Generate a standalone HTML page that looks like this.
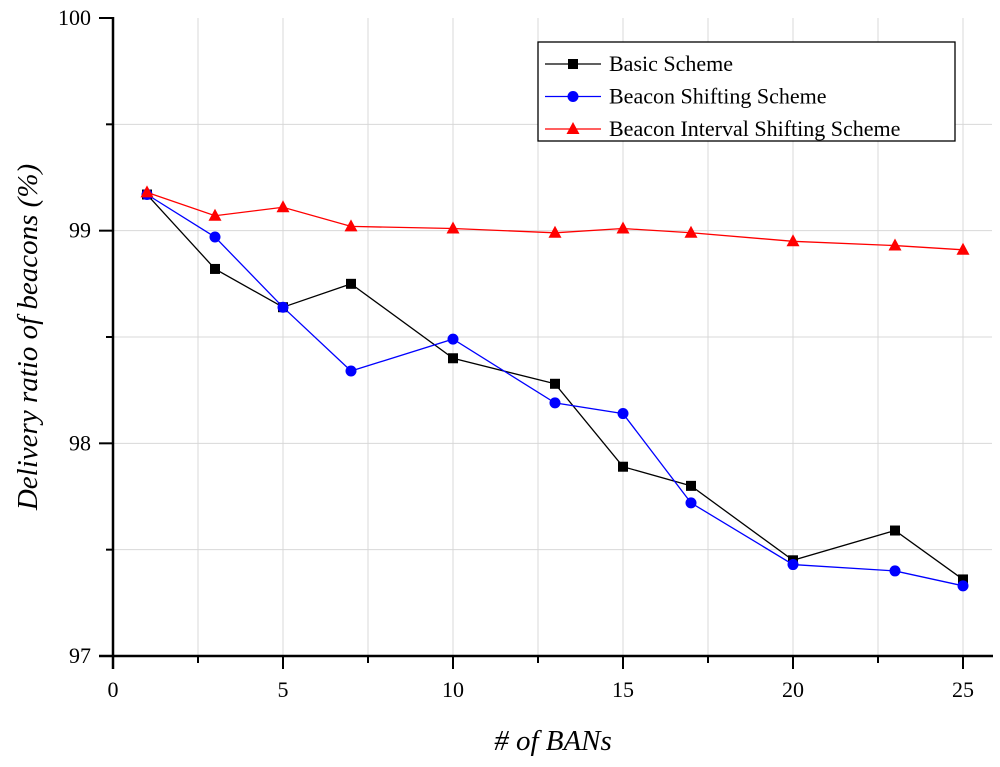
<!DOCTYPE html>
<html><head><meta charset="utf-8"><style>
html,body{margin:0;padding:0;background:#fff}
text{font-family:"Liberation Serif",serif}
</style></head><body>
<svg id="chart" width="1000" height="762" xmlns="http://www.w3.org/2000/svg"></svg>
<script>
const xValues=[1,3,5,7,10,13,15,17,20,23,25];
const basicSeries=[99.17,98.82,98.64,98.75,98.40,98.28,97.89,97.80,97.45,97.59,97.36];
const shiftSeries=[99.17,98.97,98.64,98.34,98.49,98.19,98.14,97.72,97.43,97.40,97.33];
const intervalSeries=[99.18,99.07,99.11,99.02,99.01,98.99,99.01,98.99,98.95,98.93,98.91];
const xTickLabels=[0,5,10,15,20,25];
const yTickLabels=[97,98,99,100];
const seriesNames=["Basic Scheme","Beacon Shifting Scheme","Beacon Interval Shifting Scheme"];

const NS="http://www.w3.org/2000/svg";
const svg=document.getElementById('chart');
const X0=113,PX=34,Y0=656,PY=212.67,YMIN=97;
const sx=v=>X0+v*PX, sy=v=>Y0-(v-YMIN)*PY;
function mk(tag,attrs,parent){const e=document.createElementNS(NS,tag);for(const k in attrs)e.setAttribute(k,attrs[k]);(parent||svg).appendChild(e);return e;}

for(let v=2.5;v<=25.01;v+=2.5){const g=mk('line',{x1:sx(v),x2:sx(v),y1:18,y2:Y0,stroke:'#d8d8d8','stroke-width':1});

}
for(let v=97.5;v<=99.51;v+=0.5){const g=mk('line',{x1:X0,x2:992,y1:sy(v),y2:sy(v),stroke:'#d8d8d8','stroke-width':1});

}
const ax=mk('line',{x1:X0-14,x2:993,y1:Y0,y2:Y0,stroke:'#000','stroke-width':2.5});


const ay=mk('line',{x1:X0,x2:X0,y1:17,y2:Y0+13,stroke:'#000','stroke-width':2.5});


for(let v=2.5;v<=25.01;v+=2.5){const major=Math.abs(v%5)<0.01;const t=mk('line',{x1:sx(v),x2:sx(v),y1:Y0,y2:Y0+(major?13:7),stroke:'#000','stroke-width':2});

}
xTickLabels.forEach(v=>{const t=mk('text',{x:sx(v),y:Y0+41,'font-size':22,'text-anchor':'middle'});t.textContent=v;

});
for(let v=97.5;v<=100.01;v+=0.5){const major=Math.abs(v%1)<0.01;const t=mk('line',{x1:X0,x2:X0-(major?14:7),y1:sy(v),y2:sy(v),stroke:'#000','stroke-width':2});

}
yTickLabels.forEach(v=>{const t=mk('text',{x:X0-22,y:sy(v)+7,'font-size':22,'text-anchor':'end'});t.textContent=v;

});
const xt=mk('text',{x:553,y:750,'font-size':29,'font-style':'italic','text-anchor':'middle'});xt.textContent='# of BANs';


const yt=mk('text',{x:0,y:0,'font-size':29,'font-style':'italic','text-anchor':'middle',transform:'translate(37,337) rotate(-90)'});yt.textContent='Delivery ratio of beacons (%)';



function marker(type,cx,cy,color,parent){
  if(type==='square')return mk('rect',{x:cx-5,y:cy-5,width:10,height:10,fill:color},parent);
  if(type==='circle')return mk('circle',{cx:cx,cy:cy,r:5.5,fill:color},parent);
  return mk('polygon',{points:`${cx},${cy-7} ${cx-6.5},${cy+5} ${cx+6.5},${cy+5}`,fill:color},parent);
}
const specs=[[basicSeries,'#000','square','basic-scheme'],[shiftSeries,'#0000ff','circle','beacon-shifting'],[intervalSeries,'#ff0000','triangle','beacon-interval-shifting']];
specs.forEach(([data,color,type,name])=>{
  const g=mk('g',{});
  
  
  const pl=mk('polyline',{points:data.map((v,i)=>sx(xValues[i])+','+sy(v)).join(' '),fill:'none',stroke:color,'stroke-width':1.3},g);
  
  
  data.forEach((v,i)=>{const m=marker(type,sx(xValues[i]),sy(v),color,g);
    
    });
});
const lg=mk('g',{});


mk('rect',{x:538,y:42,width:417,height:99,fill:'#fff',stroke:'#000','stroke-width':1.3},lg);
specs.forEach(([d,color,type,name],i)=>{
  const y=64+i*32.5;
  const e=mk('g',{},lg);
  
  
  mk('line',{x1:545,x2:601,y1:y,y2:y,stroke:color,'stroke-width':1.3},e);
  marker(type,573,y,color,e);
  const t=mk('text',{x:609,y:y+7,'font-size':22},e);t.textContent=seriesNames[i];
});
</script>
</body></html>
